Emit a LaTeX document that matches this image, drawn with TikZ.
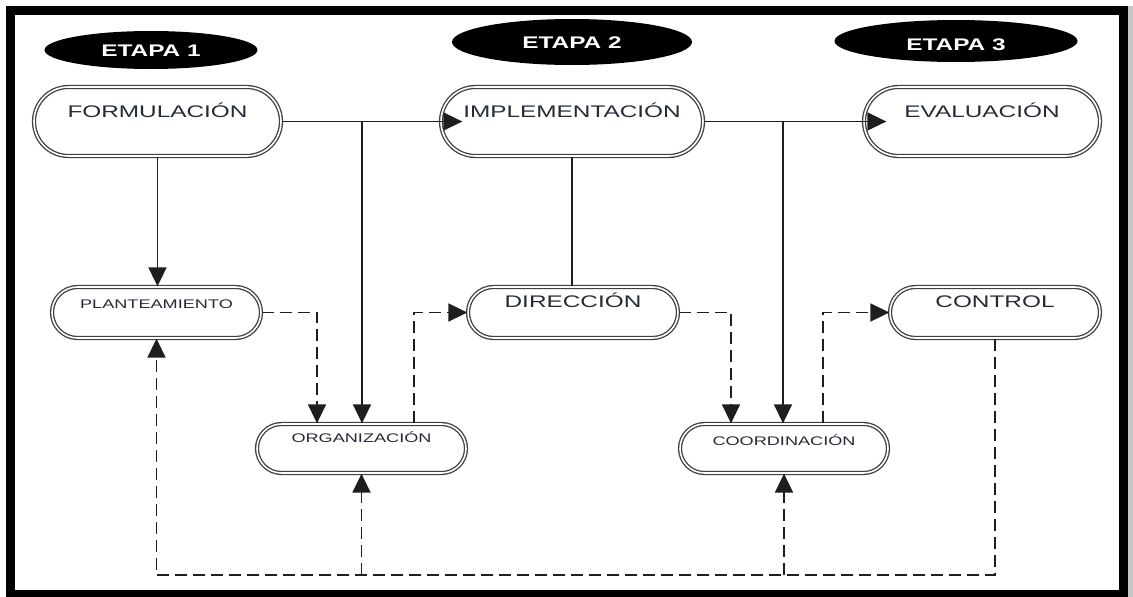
\documentclass[tikz,border=0pt]{standalone}
\usepackage{fontspec}
\setmainfont{Liberation Sans}[FakeStretch=1.45]
\usetikzlibrary{arrows.meta,shapes.geometric,shapes.misc}
\definecolor{txt}{HTML}{262B36}
\definecolor{ln}{HTML}{1E1E1E}
\newcommand\bigfnt{\fontsize{16.8}{18}\selectfont}
\newcommand\smfnt{\fontsize{12.5}{14}\selectfont}
\begin{document}
\begin{tikzpicture}[x=1pt,y=-1pt,
  proc/.style={rounded rectangle, draw=ln!85, line width=1.3pt, double=white,
    double distance=1.6pt, fill=white, inner sep=0pt, text=txt},
  bigp/.style={proc, minimum height=69pt, font=\bigfnt, text height=12pt},
  midp/.style={proc, minimum height=51pt, font=\bigfnt, text height=12pt},
  smp/.style={proc, font=\smfnt, text height=9pt},
  etapa/.style={ellipse, fill=black, inner sep=0pt, text=white,
    font=\bigfnt\bfseries, text height=12pt, text depth=0pt},
  conn/.style={draw=ln, line width=1.6pt},
  arr/.style={conn, -{Triangle[length=19pt,width=18pt]}},
  darr/.style={arr, dash pattern=on 12pt off 6pt}]
\useasboundingbox (0,0) rectangle (1133,597);
\fill[white] (0,0) rectangle (1133,597);

% stage labels
\node[etapa, minimum width=213pt, minimum height=38pt] (e1) at (151,50) {ETAPA 1};
\node[etapa, minimum width=240pt, minimum height=46pt] (e2) at (572,42) {ETAPA 2};
\node[etapa, minimum width=243pt, minimum height=42pt, text height=18pt] (e3) at (956,41) {ETAPA 3};

% main nodes
\node[bigp, minimum width=247pt, text depth=21pt] (form) at (157.5,121.5) {FORMULACIÓN};
\node[bigp, minimum width=262pt, text depth=21pt] (impl) at (572,121.5) {IMPLEMENTACIÓN};
\node[bigp, minimum width=236pt, text depth=20pt] (eval) at (982,121.5) {EVALUACIÓN};

\node[smp, minimum width=209pt, minimum height=51pt, text depth=17pt] (plant) at (156.5,312.5) {PLANTEAMIENTO};
\node[midp, minimum width=210pt, text depth=23pt] (dir) at (573,312.5) {DIRECCIÓN};
\node[midp, minimum width=210pt, text depth=23pt] (ctrl) at (995,312.5) {CONTROL};

\node[smp, minimum width=209pt, minimum height=49pt, text depth=21pt] (org) at (361.5,448.5) {ORGANIZACIÓN};
\node[smp, minimum width=208pt, minimum height=49pt, text depth=15pt] (coord) at (784,448.5) {COORDINACIÓN};

% helper coordinates
\coordinate (j1) at (362,121.5);
\coordinate (j2) at (783,121.5);
\coordinate (c1) at (317,312.5);
\coordinate (c2) at (414,312.5);
\coordinate (c3) at (731,312.5);
\coordinate (c4) at (823,312.5);
\coordinate (b) at (0,575);
\coordinate (ti) at ([xshift=22pt]impl.west);
\coordinate (te) at ([xshift=23pt]eval.west);

% solid connectors
\draw[arr] (form.south) -- (form.south |- plant.north);
\draw[arr] (form.east) -- (j1) -- (ti);
\draw[arr] (j1) -- (j1 |- org.north);
\draw[conn] (impl.south) -- (impl.south |- dir.north);
\draw[arr] (impl.east) -- (j2) -- (te);
\draw[arr] (j2) -- (j2 |- coord.north);

% dashed connectors
\draw[darr] (plant.east) -- (c1) -- (c1 |- org.north);
\draw[darr] (c2 |- org.north) -- (c2) -- (dir.west);
\draw[darr] (dir.east) -- (c3) -- (c3 |- coord.north);
\draw[darr] (c4 |- coord.north) -- (c4) -- (ctrl.west);
\draw[darr] (ctrl.south) -- (ctrl.south |- b) -- (plant.south |- b) -- (plant.south);
\draw[darr] (org.south |- b) -- (org.south);
\draw[darr] (coord.south |- b) -- (coord.south);

% frame
\fill[gray!45] (1127,6) rectangle (1133,597);
\draw[line width=9pt] (10,10) rectangle (1123,594);
\end{tikzpicture}
\end{document}
